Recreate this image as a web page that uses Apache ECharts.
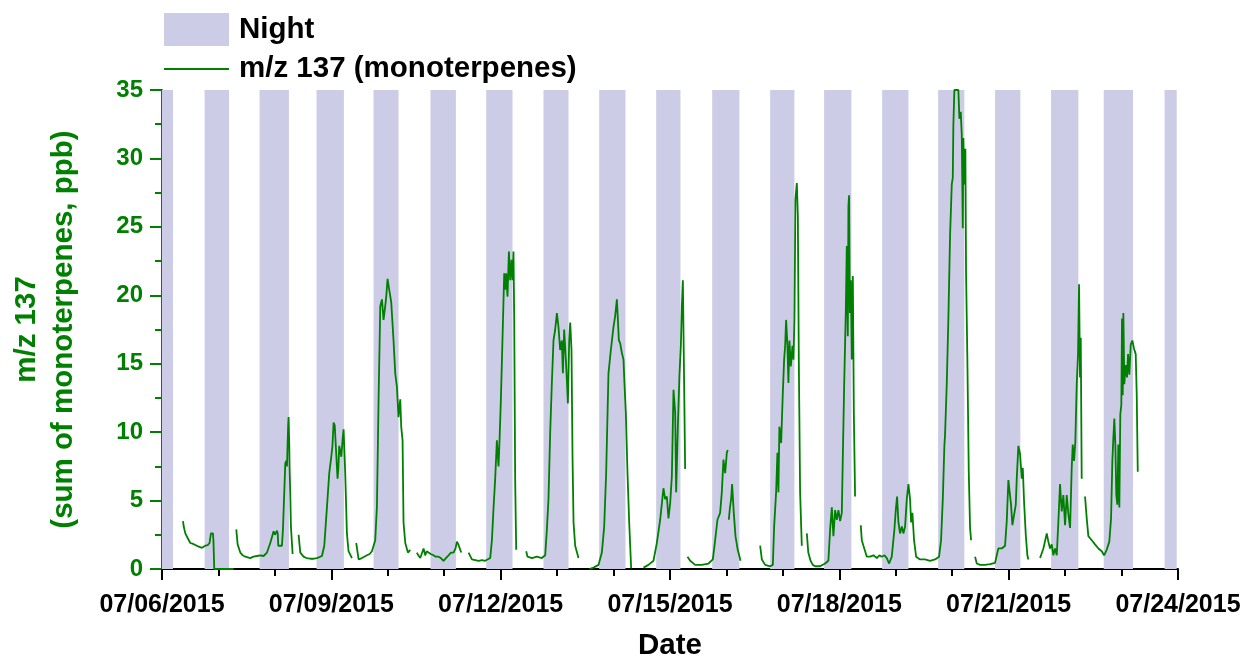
<!DOCTYPE html>
<html>
<head>
<meta charset="utf-8">
<script src="https://cdn.jsdelivr.net/npm/echarts@6/dist/echarts.min.js"></script>
<style>
  html, body { margin: 0; padding: 0; background: #ffffff; }
  #chart { width: 1241px; height: 657px; }
</style>
</head>
<body>
<div id="chart"></div>
<script>
// Time is counted in days since 07/06/2015 00:00.

// Night periods (start / end)
const nightStart = [0, 0.755, 1.729, 2.738, 3.748, 4.757, 5.744, 6.759, 7.745, 8.755,
                    9.747, 10.774, 11.730, 12.758, 13.750, 14.759, 15.751, 16.684, 17.762];
const nightEnd   = [0.195, 1.187, 2.249, 3.223, 4.191, 5.207, 6.210, 7.202, 8.211, 9.185,
                    10.230, 11.204, 12.214, 13.224, 14.215, 15.207, 16.235, 17.203, 17.977];

// Date tick labels, one every 3 days
const dateLabels = ['07/06/2015', '07/09/2015', '07/12/2015', '07/15/2015',
                    '07/18/2015', '07/21/2015', '07/24/2015'];

// m/z 137 (sum of monoterpenes, ppb): [day, ppb]; null ppb = gap in the record
const mz137 = [
  [0.372,3.5],[0.385,3.1],[0.413,2.6],[0.45,2.3],[0.501,1.9],[0.54,1.85],[0.59,1.75],[0.64,1.65],
  [0.708,1.55],[0.74,1.6],[0.767,1.7],[0.81,1.75],[0.843,1.9],[0.867,2.6],[0.903,2.6],[0.912,2.0],
  [0.926,0],[1.27,0],
  [1.29,null],
  [1.316,2.9],[1.34,1.8],[1.387,1.2],[1.43,1.0],[1.475,0.9],[1.52,0.85],[1.564,0.8],[1.62,0.9],
  [1.682,0.95],[1.74,1.0],[1.8,0.95],[1.86,1.2],[1.918,1.9],[1.977,2.75],[2.0,2.5],[2.037,2.8],
  [2.05,2.6],[2.06,1.7],[2.125,1.7],[2.143,2.9],[2.184,7.7],[2.2,7.9],[2.214,7.5],[2.235,10.5],
  [2.243,11.1],[2.255,9.0],[2.26,7.5],[2.275,5.0],[2.284,3.1],[2.314,1.1],
  [2.37,null],
  [2.42,2.5],[2.45,1.2],[2.508,0.9],[2.56,0.8],[2.627,0.75],[2.69,0.75],[2.745,0.8],[2.834,0.95],
  [2.875,1.7],[2.922,4.5],[2.963,7.0],[2.999,8.2],[3.02,9.0],[3.04,10.7],[3.06,10.5],[3.087,10.5],
  [3.11,6.6],[3.125,7.4],[3.14,9.0],[3.176,8.2],[3.2,9.5],[3.217,10.2],[3.246,7.0],[3.276,2.6],
  [3.305,1.3],[3.365,0.8],
  [3.4,null],
  [3.441,1.9],[3.483,0.7],[3.542,0.8],[3.631,1.0],[3.68,1.1],[3.719,1.3],[3.778,2.1],[3.808,4.6],
  [3.837,12.4],[3.867,19.2],[3.897,19.7],[3.925,18.2],[3.955,19.2],[3.975,20.0],[3.996,21.2],
  [4.026,20.4],[4.061,19.5],[4.102,16.7],[4.132,14.3],[4.162,13.3],[4.19,11.1],[4.221,12.4],
  [4.238,10.4],[4.262,9.4],[4.279,3.4],[4.31,1.9],[4.357,1.2],[4.398,1.4],
  [4.45,null],
  [4.516,1.2],[4.54,1.0],[4.575,0.8],[4.6,1.1],[4.634,1.5],[4.663,1.0],[4.69,1.3],[4.722,1.2],
  [4.76,1.1],[4.81,1.0],[4.85,0.9],[4.899,0.9],[4.94,0.8],[4.988,0.6],[5.03,0.8],[5.076,1.0],
  [5.12,1.2],[5.165,1.2],[5.2,1.5],[5.225,2.0],[5.25,1.8],[5.266,1.8],[5.301,1.2],
  [5.36,null],
  [5.431,1.2],[5.49,0.7],[5.55,0.65],[5.608,0.6],[5.67,0.65],[5.726,0.6],[5.815,0.8],[5.845,2.1],
  [5.873,4.4],[5.903,6.6],[5.933,9.4],[5.962,7.5],[5.98,9.4],[6.004,12.4],[6.04,18.0],[6.063,21.6],
  [6.08,20.4],[6.098,21.6],[6.121,19.9],[6.146,23.2],[6.169,21.1],[6.192,22.6],[6.21,21.1],
  [6.227,23.2],[6.24,18.3],[6.257,6.5],[6.275,1.4],
  [6.36,null],
  [6.452,1.3],[6.476,0.9],[6.553,0.8],[6.642,0.9],[6.73,0.8],[6.789,1.0],[6.819,2.9],[6.847,5.1],
  [6.877,9.9],[6.907,13.6],[6.936,16.7],[6.966,17.5],[6.996,18.7],[7.024,17.7],[7.054,16.0],
  [7.084,16.7],[7.102,14.3],[7.125,17.5],[7.148,15.8],[7.173,13.8],[7.191,12.1],[7.214,16.7],
  [7.232,18.0],[7.255,16.0],[7.273,8.2],[7.291,3.4],[7.32,1.7],[7.379,0.8],
  [7.48,null],
  [7.574,0],[7.645,0.1],[7.733,0.3],[7.793,1.2],[7.834,3.1],[7.869,7.0],[7.91,14.3],[7.952,16.0],
  [7.999,17.7],[8.029,18.5],[8.059,19.7],[8.077,18.2],[8.094,16.7],[8.117,16.5],[8.147,15.8],
  [8.176,15.3],[8.193,13.6],[8.218,11.4],[8.247,7.0],[8.277,3.4],[8.312,0.05],
  [8.42,null],
  [8.53,0.1],[8.618,0.3],[8.707,0.6],[8.767,1.9],[8.826,3.6],[8.884,5.9],[8.914,5.1],[8.944,5.3],
  [8.973,3.7],[9.003,4.8],[9.033,6.8],[9.062,13.1],[9.092,11.4],[9.109,5.6],[9.139,10.4],
  [9.167,14.1],[9.192,16.3],[9.21,19.2],[9.228,21.1],[9.238,17.7],[9.256,11.6],[9.268,7.3],
  [9.29,null],
  [9.31,0.9],[9.357,0.6],[9.446,0.3],[9.564,0.3],[9.682,0.4],[9.759,0.7],[9.8,2.1],[9.841,3.6],
  [9.888,4.1],[9.918,5.6],[9.947,8.0],[9.977,7.0],[10.007,8.5],[10.024,8.7],
  [10.033,null],
  [10.042,3.6],[10.06,4.4],[10.085,5.2],[10.1,6.2],[10.13,4.1],[10.16,2.4],[10.2,1.4],[10.25,0.6],
  [10.42,null],
  [10.597,1.7],[10.627,0.7],[10.686,0.3],[10.774,0.2],[10.822,0.3],[10.845,3.1],[10.88,5.6],
  [10.903,8.5],[10.921,5.6],[10.938,10.4],[10.969,9.2],[10.999,12.9],[11.022,15.3],[11.04,16.3],
  [11.057,18.2],[11.081,16.3],[11.098,13.6],[11.116,16.7],[11.14,14.8],[11.169,16.3],[11.187,15.3],
  [11.205,18.2],[11.222,27.0],[11.247,28.2],[11.265,25.8],[11.282,15.3],[11.305,5.6],[11.335,1.7],
  [11.38,null],
  [11.424,2.6],[11.45,1.2],[11.49,0.6],[11.53,0.3],[11.571,0.2],[11.659,0.2],[11.748,0.4],
  [11.806,0.6],[11.837,2.9],[11.867,4.5],[11.895,2.4],[11.925,4.3],[11.955,3.6],[11.984,4.3],
  [12.014,3.5],[12.044,4.1],[12.061,8.0],[12.085,13.3],[12.115,18.9],[12.132,23.6],[12.15,17.0],
  [12.161,26.5],[12.173,27.3],[12.186,18.7],[12.204,21.1],[12.221,15.3],[12.239,21.4],
  [12.257,11.4],[12.279,5.3],
  [12.33,null],
  [12.38,3.2],[12.398,2.1],[12.427,1.7],[12.487,0.9],[12.545,0.9],[12.604,1.0],[12.664,0.8],
  [12.71,1.0],[12.752,0.9],[12.8,1.0],[12.841,0.8],[12.882,0.4],[12.929,0.9],[12.976,2.9],
  [13.0,4.3],[13.023,5.3],[13.047,3.4],[13.076,2.6],[13.107,3.1],[13.135,2.6],[13.165,3.1],
  [13.195,5.1],[13.224,6.2],[13.253,5.1],[13.271,3.4],[13.294,4.1],[13.324,2.1],[13.36,0.9],
  [13.43,0.7],[13.519,0.7],[13.607,0.6],[13.696,0.7],[13.767,0.9],[13.802,2.1],[13.833,5.1],
  [13.861,9.0],[13.873,9.8],[13.903,13.5],[13.932,18.3],[13.962,24.4],[13.992,28.1],[14.01,28.6],
  [14.02,32.4],[14.038,35],[14.109,35],[14.127,32.9],[14.151,33.4],[14.169,31.7],[14.187,24.9],
  [14.197,31.5],[14.215,28.1],[14.233,30.7],[14.245,21.7],[14.268,15.4],[14.293,7.1],[14.316,3.0],
  [14.334,2.1],
  [14.37,null],
  [14.405,0.9],[14.435,0.4],[14.493,0.3],[14.582,0.3],[14.671,0.35],[14.759,0.45],[14.789,1.0],
  [14.818,1.5],[14.878,1.5],[14.936,1.7],[14.966,3.5],[14.995,6.5],[15.025,6.4],[15.042,4.7],
  [15.066,3.2],[15.096,3.2],[15.126,4.7],[15.143,6.6],[15.172,9.0],[15.202,8.4],[15.232,6.6],
  [15.25,7.4],[15.273,4.9],[15.303,2.5],[15.331,1.0],[15.349,0.7],
  [15.45,null],
  [15.556,0.8],[15.615,1.5],[15.675,2.6],[15.703,2.0],[15.733,1.5],[15.763,1.8],[15.792,1.0],
  [15.822,1.5],[15.852,1.0],[15.881,3.5],[15.91,6.2],[15.94,4.2],[15.969,5.4],[15.999,3.2],
  [16.029,5.4],[16.058,4.0],[16.088,3.0],[16.117,7.4],[16.135,9.1],[16.158,7.9],[16.181,9.3],
  [16.206,13.5],[16.229,15.7],[16.247,20.8],[16.264,14.0],[16.277,16.9],[16.294,6.6],
  [16.32,null],
  [16.353,5.3],[16.383,3.7],[16.412,2.4],[16.472,2.1],[16.53,1.8],[16.589,1.5],[16.649,1.3],
  [16.69,1.0],[16.737,1.4],[16.783,2.0],[16.814,3.7],[16.837,7.9],[16.855,9.6],[16.872,11.0],
  [16.89,9.1],[16.907,5.4],[16.925,4.7],[16.943,9.1],[16.961,4.5],[16.978,11.3],[16.996,12.0],
  [17.008,18.3],[17.021,12.7],[17.032,18.7],[17.049,13.5],[17.074,14.9],[17.097,14.0],
  [17.115,15.7],[17.138,14.2],[17.163,16.4],[17.191,16.7],[17.221,16.1],[17.251,15.7],
  [17.269,12.7],[17.287,7.1]
];

const GREEN = '#008000';
const NIGHT = '#CCCCE6';
const FONT = '"Liberation Sans", Arial, sans-serif';

const chart = echarts.init(document.getElementById('chart'), null, { renderer: 'canvas' });

chart.setOption({
  animation: false,
  backgroundColor: '#ffffff',
  grid: { left: 162, right: 63, top: 90, bottom: 88, containLabel: false, outerBoundsMode: 'none' },
  legend: {
    left: 163,
    top: 13,
    padding: 0,
    orient: 'vertical',
    itemWidth: 65,
    itemHeight: 33,
    itemGap: 8,
    selectedMode: false,
    textStyle: { fontFamily: FONT, fontSize: 29.5, fontWeight: 'bold', color: '#000', padding: [0, 0, 0, 5] },
    data: [
      { name: 'Night', icon: 'rect', itemStyle: { color: NIGHT, borderWidth: 0 } },
      // plain line key, no marker
      { name: 'm/z 137 (monoterpenes)', itemStyle: { opacity: 0 }, lineStyle: { width: 2 } }
    ]
  },
  xAxis: {
    type: 'value',
    min: 0,
    max: 18,
    interval: 3,
    name: 'Date',
    nameLocation: 'middle',
    nameGap: 62,
    nameTextStyle: { fontFamily: FONT, fontSize: 29.5, fontWeight: 'bold', color: '#000' },
    axisLine: { show: true, onZero: false, lineStyle: { color: '#000', width: 2 } },
    axisTick: { show: true, inside: false, length: 11, lineStyle: { color: '#000', width: 2 } },
    minorTick: { show: true, splitNumber: 3, length: 7, lineStyle: { color: '#000', width: 2 } },
    splitLine: { show: false },
    minorSplitLine: { show: false },
    axisLabel: {
      margin: 24,
      fontFamily: FONT, fontSize: 25, fontWeight: 'bold', color: '#000',
      showMinLabel: true, showMaxLabel: true,
      formatter: v => dateLabels[Math.round(v / 3)]
    }
  },
  yAxis: {
    type: 'value',
    min: 0,
    max: 35,
    interval: 5,
    name: 'm/z 137\n(sum of monoterpenes, ppb)',
    nameLocation: 'middle',
    nameGap: 80,
    nameTextStyle: { fontFamily: FONT, fontSize: 29.5, fontWeight: 'bold', color: GREEN, lineHeight: 37, align: 'center' },
    axisLine: { show: true, lineStyle: { color: GREEN, width: 2 } },
    axisTick: { show: true, inside: false, length: 12, lineStyle: { color: GREEN, width: 2 } },
    minorTick: { show: true, splitNumber: 2, length: 7, lineStyle: { color: GREEN, width: 2 } },
    splitLine: { show: false },
    minorSplitLine: { show: false },
    axisLabel: { margin: 19, fontFamily: FONT, fontSize: 24, fontWeight: 'bold', color: GREEN }
  },
  series: [
    {
      name: 'Night',
      type: 'line',
      data: [],
      color: NIGHT,
      z: 1,
      silent: true,
      markArea: {
        silent: true,
        z: 1,
        itemStyle: { color: NIGHT, opacity: 1, borderWidth: 0 },
        data: nightStart.map((s, i) => [{ xAxis: s }, { xAxis: nightEnd[i] }])
      }
    },
    {
      name: 'm/z 137 (monoterpenes)',
      type: 'line',
      z: 3,
      color: GREEN,
      symbol: 'none',
      showSymbol: false,
      connectNulls: false,
      clip: true,
      lineStyle: { color: GREEN, width: 1.8 },
      data: mz137.map(([t, v]) => [t, v === null ? '-' : v])
    }
  ]
});
</script>
</body>
</html>
